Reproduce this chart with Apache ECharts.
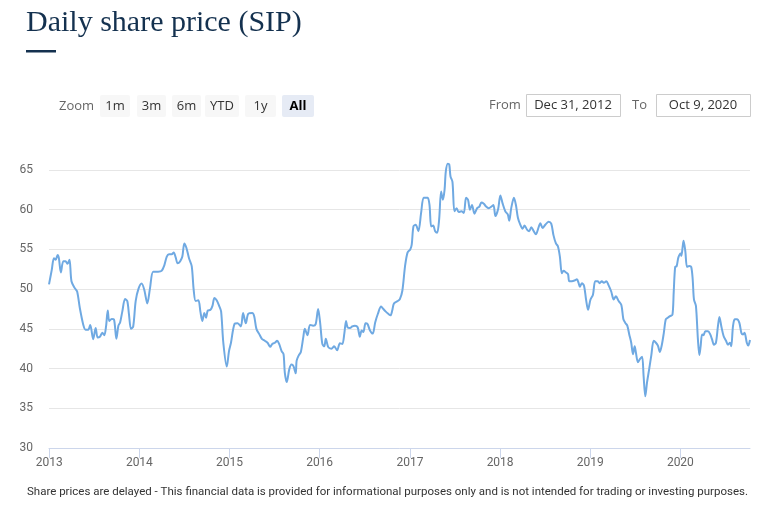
<!DOCTYPE html>
<html>
<head>
<meta charset="utf-8">
<script src="https://cdn.jsdelivr.net/npm/echarts@6/dist/echarts.min.js"></script>
<style>
html,body{margin:0;padding:0;background:#fff;}
#chart{width:782px;height:512px;}
</style>
</head>
<body>
<div id="chart"></div>
<script>
// ---- data ----
const titleText = 'Daily share price (SIP)';
const footerText = 'Share prices are delayed - This financial data is provided for informational purposes only and is not intended for trading or investing purposes.';
const zoomButtons = ['1m', '3m', '6m', 'YTD', '1y', 'All'];
const rangeFrom = 'Dec 31, 2012';
const rangeTo = 'Oct 9, 2020';
const axisStart = '2012-12-31';
const axisEnd = '2020-10-09';
const yTicks = [30, 35, 40, 45, 50, 55, 60, 65];

const dates = [
'2012-12-31','2013-01-11','2013-01-20','2013-01-27','2013-02-04','2013-02-09','2013-02-17','2013-02-27','2013-03-08','2013-03-16','2013-03-24','2013-04-01','2013-04-15','2013-04-24','2013-05-05','2013-05-19','2013-05-28','2013-06-08','2013-06-16','2013-06-28','2013-07-08','2013-07-16','2013-07-25','2013-08-04','2013-08-12','2013-08-19','2013-08-26','2013-09-01','2013-09-11','2013-09-20','2013-09-30','2013-10-08','2013-10-15','2013-10-24','2013-11-04','2013-11-13','2013-11-20','2013-11-28','2013-12-07','2013-12-17','2013-12-28',
'2014-01-10','2014-01-21','2014-02-02','2014-02-13','2014-02-26','2014-03-18','2014-04-01','2014-04-12','2014-04-22','2014-05-01','2014-05-12','2014-05-20','2014-05-28','2014-06-05','2014-06-15','2014-06-24','2014-07-02','2014-07-10','2014-07-21','2014-08-01','2014-08-09','2014-08-17','2014-08-28','2014-09-05','2014-09-13','2014-09-21','2014-09-28','2014-10-05','2014-10-16','2014-10-24','2014-11-01','2014-11-10','2014-11-20','2014-11-28','2014-12-07','2014-12-21','2014-12-30',
'2015-01-07','2015-01-21','2015-02-03','2015-02-16','2015-02-25','2015-03-08','2015-03-18','2015-04-03','2015-04-11','2015-04-20','2015-05-04','2015-05-13','2015-05-24','2015-06-04','2015-06-15','2015-06-23','2015-07-04','2015-07-13','2015-07-21','2015-07-31','2015-08-08','2015-08-13','2015-08-21','2015-08-31','2015-09-09','2015-09-17','2015-09-26','2015-09-30','2015-10-09','2015-10-17','2015-10-27','2015-11-02','2015-11-13','2015-11-23','2015-12-06','2015-12-16','2015-12-26',
'2016-01-03','2016-01-12','2016-01-20','2016-01-26','2016-02-05','2016-02-18','2016-02-29','2016-03-12','2016-03-23','2016-04-02','2016-04-10','2016-04-17','2016-04-23','2016-05-03','2016-05-12','2016-05-23','2016-06-03','2016-06-12','2016-06-19','2016-06-26','2016-07-05','2016-07-13','2016-07-23','2016-08-03','2016-08-13','2016-08-24','2016-09-06','2016-09-15','2016-09-24','2016-10-05','2016-10-14','2016-10-21','2016-10-28','2016-11-12','2016-11-21','2016-12-01','2016-12-12','2016-12-22',
'2017-01-02','2017-01-08','2017-01-15','2017-01-24','2017-02-04','2017-02-15','2017-02-25','2017-03-06','2017-03-14','2017-03-21','2017-03-28','2017-04-05','2017-04-13','2017-04-21','2017-04-29','2017-05-07','2017-05-14','2017-05-21','2017-05-26','2017-06-03','2017-06-09','2017-06-14','2017-06-22','2017-06-30','2017-07-09','2017-07-17','2017-07-28','2017-08-07','2017-08-16','2017-08-24','2017-09-01','2017-09-09','2017-09-19','2017-09-30','2017-10-09','2017-10-17','2017-10-27','2017-11-05','2017-11-16','2017-11-27','2017-12-05','2017-12-13','2017-12-24',
'2018-01-02','2018-01-11','2018-01-22','2018-02-01','2018-02-07','2018-02-15','2018-02-26','2018-03-06','2018-03-14','2018-03-24','2018-04-02','2018-04-10','2018-04-20','2018-04-29','2018-05-07','2018-05-17','2018-05-26','2018-06-03','2018-06-13','2018-06-22','2018-07-03','2018-07-16','2018-07-27','2018-08-05','2018-08-15','2018-08-23','2018-08-31','2018-09-08','2018-09-15','2018-09-25','2018-10-03','2018-10-08','2018-10-19','2018-10-30','2018-11-08','2018-11-15','2018-11-20','2018-11-28','2018-12-07','2018-12-15','2018-12-23',
'2019-01-02','2019-01-12','2019-01-21','2019-01-31','2019-02-08','2019-02-17','2019-02-25','2019-03-07','2019-03-16','2019-03-27','2019-04-06','2019-04-15','2019-04-26','2019-05-07','2019-05-15','2019-05-23','2019-05-31','2019-06-08','2019-06-16','2019-06-23','2019-06-30','2019-07-05','2019-07-13','2019-07-21','2019-07-30','2019-08-05','2019-08-12','2019-08-19','2019-08-28','2019-09-05','2019-09-15','2019-09-24','2019-10-02','2019-10-10','2019-10-18','2019-10-26','2019-11-03','2019-11-11','2019-11-20','2019-11-30','2019-12-05','2019-12-11','2019-12-17','2019-12-24',
'2020-01-02','2020-01-05','2020-01-10','2020-01-14','2020-01-21','2020-01-28','2020-02-06','2020-02-14','2020-02-20','2020-02-25','2020-03-04','2020-03-12','2020-03-18','2020-03-23','2020-03-29','2020-04-04','2020-04-11','2020-04-22','2020-05-01','2020-05-08','2020-05-16','2020-05-24','2020-06-01','2020-06-07','2020-06-15','2020-06-24','2020-07-04','2020-07-12','2020-07-20','2020-07-25','2020-08-01','2020-08-08','2020-08-17','2020-08-27','2020-09-04','2020-09-11','2020-09-17','2020-09-26','2020-10-02','2020-10-09'
];

const prices = [
50.6,52.4,53.9,53.7,54.3,53.9,52.1,53.5,53.5,53.2,53.7,51.0,50.1,49.7,47.6,45.5,44.9,44.9,45.5,43.7,45.1,43.9,44.0,44.5,44.2,45.3,47.3,46.0,46.25,46.2,43.75,45.4,45.8,47.2,48.75,48.5,46.8,45.0,45.3,48.5,50.0,
50.7,49.9,48.2,50.1,52.2,52.2,52.3,53.0,54.1,54.4,54.4,54.6,54.0,53.25,53.5,54.1,55.75,55.25,53.9,52.9,49.9,48.5,48.6,47.2,46.0,47.0,46.4,47.3,47.4,47.9,48.9,48.6,47.9,47.2,43.25,40.25,42.2,
43.25,45.6,45.7,45.3,47.0,45.7,46.9,47.0,46.6,45.0,44.2,43.7,43.5,43.25,42.75,43.1,43.25,43.5,43.1,42.2,41.8,39.5,38.3,39.9,40.5,40.3,39.4,41.0,41.7,42.1,44.0,45.0,44.2,45.5,45.4,45.6,47.5,
45.8,43.1,42.8,43.75,42.7,42.5,42.8,42.3,43.2,43.1,44.4,46.0,45.2,45.1,45.3,45.4,45.2,44.0,44.8,44.6,45.7,45.6,44.8,44.4,45.8,46.9,47.8,47.5,47.2,46.9,46.7,47.3,48.2,48.5,48.75,49.8,52.9,54.6,
55.0,55.6,57.9,58.1,57.3,59.6,61.5,61.5,61.5,60.6,57.9,58.0,57.3,57.1,58.75,62.3,61.25,62.5,64.8,65.8,65.7,64.2,63.5,59.8,60.2,59.7,59.8,59.6,61.5,61.25,60.0,60.6,59.5,60.2,60.4,60.9,60.75,60.4,60.2,60.4,60.6,59.2,60.1,
61.8,60.8,59.8,59.4,58.6,60.2,61.5,60.6,59.0,58.1,57.6,58.0,57.5,57.3,57.8,57.3,56.9,57.5,58.3,57.7,58.1,58.5,58.25,56.8,55.75,55.4,54.1,52.0,52.3,52.1,51.9,51.0,51.0,51.1,51.25,50.75,50.3,50.75,50.4,48.7,47.4,
48.7,49.3,51.0,51.0,50.75,51.0,50.8,51.0,50.5,49.7,48.7,49.1,48.5,48.0,46.25,45.75,45.4,44.3,43.25,41.8,42.8,42.0,40.8,41.2,41.5,39.1,36.5,38.25,40.0,41.6,43.5,43.25,42.9,42.1,43.0,44.5,46.2,46.4,46.6,46.8,49.6,52.8,52.9,54.0,
54.5,54.2,55.25,56.1,54.8,52.8,52.9,52.8,51.2,48.7,47.9,43.7,41.7,42.8,44.3,44.2,44.7,44.7,44.3,43.7,43.0,43.25,45.3,46.5,45.3,44.1,43.5,43.0,43.25,42.8,45.3,46.2,46.2,45.75,44.5,44.3,44.5,43.25,42.9,43.6
];

// ---- chart ----
const seriesData = dates.map((d, i) => [d, prices[i]]);
const navy = '#14314f';
const uiFont = '"Open Sans", "DejaVu Sans", sans-serif';
const axisFont = 'Roboto, sans-serif';

// button geometry [x, width]
const btnGeom = [[100, 30], [137, 29], [172, 29], [205, 34], [245, 31], [282, 32]];
const graphics = [];
graphics.push({ type: 'text', left: 26, top: 8, style: { text: titleText, font: '30px "Liberation Serif", serif', fill: navy } });
graphics.push({ type: 'rect', shape: { x: 26, y: 50, width: 30, height: 2.5 }, style: { fill: navy } });
graphics.push({ type: 'text', x: 59, y: 106, style: { text: 'Zoom', font: '13px ' + uiFont, fill: '#666', textVerticalAlign: 'middle' } });
zoomButtons.forEach((b, i) => {
  const g = btnGeom[i];
  const sel = b === 'All';
  graphics.push({ type: 'rect', shape: { x: g[0], y: 95, width: g[1], height: 22, r: 2 }, style: { fill: sel ? '#e6ebf5' : '#f7f7f7' } });
  graphics.push({ type: 'text', x: g[0] + g[1] / 2, y: 106, style: { text: b, font: (sel ? 'bold ' : '') + '13px ' + uiFont, fill: sel ? '#000' : '#333', textAlign: 'center', textVerticalAlign: 'middle' } });
});
graphics.push({ type: 'text', x: 489, y: 105, style: { text: 'From', font: '13px ' + uiFont, fill: '#666', textVerticalAlign: 'middle' } });
graphics.push({ type: 'rect', shape: { x: 526.5, y: 94.5, width: 94, height: 22 }, style: { fill: '#fff', stroke: '#cccccc', lineWidth: 1 } });
graphics.push({ type: 'text', x: 573, y: 105, style: { text: rangeFrom, font: '13px ' + uiFont, fill: '#333', textAlign: 'center', textVerticalAlign: 'middle' } });
graphics.push({ type: 'text', x: 632, y: 105, style: { text: 'To', font: '13px ' + uiFont, fill: '#666', textVerticalAlign: 'middle' } });
graphics.push({ type: 'rect', shape: { x: 656.5, y: 94.5, width: 94, height: 22 }, style: { fill: '#fff', stroke: '#cccccc', lineWidth: 1 } });
graphics.push({ type: 'text', x: 703, y: 105, style: { text: rangeTo, font: '13px ' + uiFont, fill: '#333', textAlign: 'center', textVerticalAlign: 'middle' } });
graphics.push({ type: 'text', x: 27, y: 492, style: { text: footerText, font: '11.5px ' + axisFont, fill: '#333', textVerticalAlign: 'middle' } });

const chart = echarts.init(document.getElementById('chart'), null, { renderer: 'canvas' });
chart.setOption({
  animation: false,
  backgroundColor: '#fff',
  grid: { left: 49, right: 32, top: 170, bottom: 64, containLabel: false },
  xAxis: {
    type: 'time',
    min: axisStart,
    max: axisEnd,
    minInterval: 365 * 24 * 3600 * 1000,
    axisLine: { show: true, lineStyle: { color: '#ccd6eb', width: 1 } },
    axisTick: { show: true, length: 10, lineStyle: { color: '#ccd6eb' } },
    axisLabel: { formatter: '{yyyy}', color: '#666', fontSize: 12, fontFamily: axisFont, margin: 9 },
    splitLine: { show: false }
  },
  yAxis: {
    type: 'value',
    min: yTicks[0],
    max: yTicks[yTicks.length - 1],
    interval: 5,
    axisLine: { show: false },
    axisTick: { show: false },
    axisLabel: { color: '#666', fontSize: 12, fontFamily: axisFont, margin: 16 },
    splitLine: { lineStyle: { color: '#e6e6e6', width: 1 } }
  },
  series: [{
    type: 'line',
    data: seriesData,
    showSymbol: false,
    symbol: 'none',
    smooth: 0.3,
    clip: false,
    lineStyle: { color: '#6fa9e2', width: 2 }
  }],
  graphic: graphics
});
</script>
</body>
</html>
